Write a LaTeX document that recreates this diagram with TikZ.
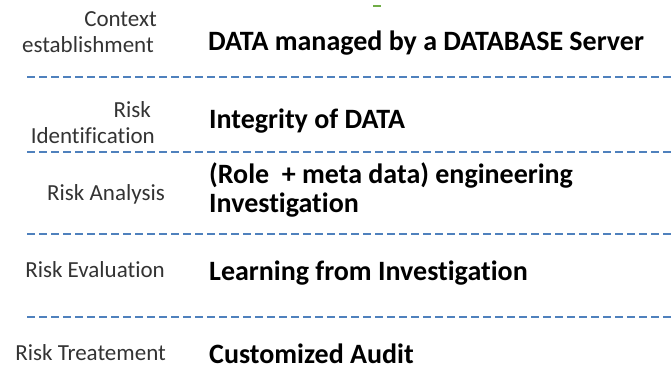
\documentclass[tikz,border=0pt]{standalone}
\usepackage{fontspec}
\setmainfont{Carlito}[Ligatures=NoCommon]
\usepackage{xcolor}
\definecolor{sepblue}{HTML}{4F81BD}
\definecolor{stepgray}{HTML}{333333}
\definecolor{markgreen}{HTML}{70AD47}

\begin{document}
\begin{tikzpicture}[x=1pt,y=-1pt,
    stage/.style={anchor=base east,inner sep=0pt,text=stepgray,font=\fontsize{23}{26}\selectfont},
    item/.style={anchor=base west,inner sep=0pt,text=black,font=\fontsize{28}{30}\selectfont\bfseries},
    sep/.style={sepblue,line width=2.8pt,dash pattern=on 8pt off 4pt}]
            \useasboundingbox (0,0) rectangle (672,372);

            \draw[markgreen,line width=1.5pt] (373,6) -- (381,6);

            \node[stage] (ctx1) at (157,26) {Context};
            \node[stage] (ctx2) at (154,52) {establishment};
            \node[item] (ctx) at (208,50) {DATA managed by a DATABASE Server};

            \node[stage] (idf1) at (151,117) {Risk};
            \node[stage] (idf2) at (155,143) {Identification};
            \node[item] (idf) at (209,128) {Integrity of DATA};

            \node[stage] (ana) at (165,200) {Risk Analysis};
            \node[item] (ana1) at (209,183) {(Role~ + meta data) engineering};
            \node[item] (ana2) at (209,212) {Investigation};

            \node[stage] (evl) at (165,277) {Risk Evaluation};
            \node[item] (evl1) at (209,280) {Learning from Investigation};

            \node[stage] (trt) at (166,360) {Risk Treatement};
            \node[item] (trt1) at (209,363) {Customized Audit};

            \draw[sep] (27,77)--(672,77);
            \draw[sep] (27,152)--(672,152);
            \draw[sep] (27,234)--(672,234);
            \draw[sep] (27,317)--(672,317);
        \end{tikzpicture}
\end{document}
